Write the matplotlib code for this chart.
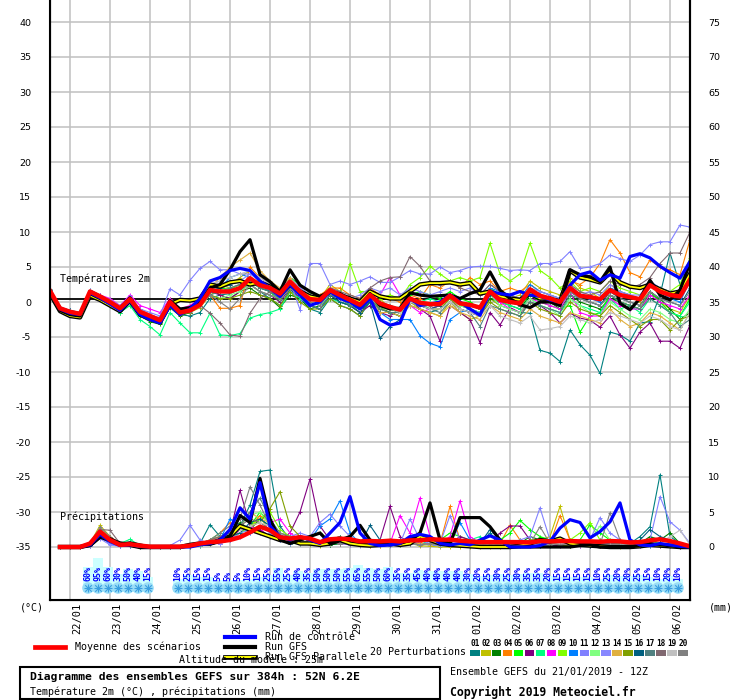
import matplotlib
matplotlib.use('Agg')
import matplotlib.pyplot as plt
from matplotlib.lines import Line2D
from matplotlib.patches import Rectangle
import numpy as np

plt.rcParams['axes.unicode_minus'] = False
MONO = 'DejaVu Sans Mono'

# ---------------- DATA ----------------
date_labels = ['22/01', '23/01', '24/01', '25/01', '26/01', '27/01', '28/01', '29/01',
               '30/01', '31/01', '01/02', '02/02', '03/02', '04/02', '05/02', '06/02']
pert_names = ['01', '02', '03', '04', '05', '06', '07', '08', '09', '10',
              '11', '12', '13', '14', '15', '16', '17', '18', '19', '20']
pert_colors = ['#008080', '#c0c000', '#008000', '#ff8000', '#00ff00', '#800080', '#00ff80',
               '#ff00ff', '#80ff00', '#0080ff', '#8080ff', '#80ff80', '#8888ff', '#e0b040',
               '#80a000', '#006080', '#508080', '#806870', '#c0c0c0', '#808080']

# temperatures (°C), every 6h from 0h to 384h
temp_mean = [1.6, -0.9, -1.4, -1.7, 1.5, 0.8, 0.0, -0.9, 0.4, -1.4, -2.0, -2.6, 0.0, -1.5, -1.2,
             -0.4, 1.7, 1.5, 1.5, 2.0, 3.4, 2.4, 2.0, 1.2, 2.9, 1.5, 0.4, 0.3, 1.7, 1.0,
             0.3, -0.4, 1.0, -0.2, -0.7, -1.1, 0.5, -0.1, -0.3, -0.3, 0.9, -0.2, -0.4, -0.8, 1.5,
             0.3, 0.0, -0.2, 1.8, 0.9, 0.5, 0.0, 2.0, 0.9, 0.7, 0.4, 1.7, 1.0, 0.7, 0.4,
             2.4, 1.5, 1.0, 0.8, 3.2]
temp_ctl = [1.5, -1.0, -1.6, -1.8, 1.3, 0.6, -0.3, -1.2, 0.2, -1.8, -2.5, -3.0, -0.5, -1.8, -1.0,
            0.5, 3.0, 3.5, 4.5, 4.8, 4.5, 3.0, 2.0, 0.8, 2.5, 1.0, -0.5, 0.0, 1.5, 0.5,
            0.0, -1.0, 0.5, -2.5, -3.3, -3.0, 0.5, -0.5, -0.3, 0.0, 1.0, 0.0, -1.0, -1.9, 1.5,
            1.2, 1.0, 1.5, 1.0, 0.8, 0.3, 0.0, 2.4, 3.9, 4.3, 3.1, 3.9, 3.4, 6.5, 6.9,
            6.3, 5.1, 4.2, 3.4, 5.8]
temp_gfs = [1.4, -1.2, -1.8, -2.0, 1.2, 0.5, -0.2, -1.0, 0.6, -1.5, -2.2, -2.8, 0.2, -1.0, -0.8,
            0.0, 2.0, 2.5, 4.6, 7.2, 8.9, 3.9, 2.9, 1.5, 4.6, 2.4, 1.5, 0.8, 1.5, 1.2,
            0.2, -0.6, 1.2, -0.5, -1.0, -0.9, 1.3, 1.0, 0.8, 0.9, 1.0, 0.5, 1.2, 1.7, 4.3,
            1.7, 0.5, -0.4, -0.8, 0.0, 0.0, -0.5, 4.6, 3.9, 3.6, 2.9, 5.0, -0.2, -1.1, 0.5,
            3.1, 1.0, 0.3, 1.7, 5.6]
temp_par = [1.2, -1.3, -2.0, -2.2, 0.9, 0.3, -0.5, -1.3, 0.2, -1.8, -2.4, -2.9, -0.3, 0.3, 0.2,
            0.5, 2.5, 2.2, 2.8, 3.0, 2.5, 2.8, 2.2, 1.0, 2.5, 1.5, 0.8, 0.5, 1.5, 1.0,
            0.5, 0.0, 1.5, 0.8, 0.5, 0.5, 1.5, 2.5, 2.7, 2.7, 2.8, 2.5, 2.7, 1.2, 1.5,
            0.8, 0.5, 0.3, 1.2, 0.5, 0.5, 0.0, 4.5, 3.5, 3.2, 2.8, 4.2, 2.8, 2.2, 2.0,
            2.5, 1.8, 1.2, 1.5, 4.0]

temp_p01 = [1.8, -0.7, -1.3, -1.5, 1.7, 1.0, 0.2, -0.8, 0.6, -1.2, -1.8, -2.4, 0.3, -1.8, -2.0,
            -1.5, 0.5, 1.0, 1.2, 1.8, 2.5, 1.5, 0.5, -0.5, 1.8, 0.5, -1.0, -1.5, 0.5, -0.5,
            -1.0, -2.0, 0.0, -1.0, -1.5, -2.0, -0.5, -1.0, -1.5, -1.0, 0.0, -1.0, -1.5, -2.0, 0.5,
            -0.5, -1.0, -1.5, -1.6, -6.9, -7.3, -8.5, -4.0, -6.1, -7.6, -10.2, -4.3, -4.7, -5.6, -3.0,
            -2.8, 1.0, 7.0, 2.5, 4.2]
temp_p02 = [1.5, -1.1, -1.5, -1.6, 1.4, 0.9, 0.1, -1.0, 0.3, -1.5, -2.2, -2.8, -0.2, -1.2, -1.5,
            -0.8, 1.0, 1.8, 2.5, 3.5, 4.5, 3.0, 2.5, 1.0, 3.5, 2.0, 1.0, 0.5, 2.5, 1.5,
            0.5, -0.5, 1.5, 0.5, -1.0, -1.5, 0.0, -1.0, -1.5, -2.0, 0.0, -1.5, -2.5, -2.0, 0.5,
            -0.5, 0.5, 1.0, 3.0, 2.0, 1.5, 1.0, 3.5, 2.0, 1.5, 0.5, 2.5, 1.5, 1.0, 0.0,
            1.5, 0.0, -1.0, -1.5, 1.0]
temp_p03 = [1.7, -0.8, -1.2, -1.9, 1.2, 0.5, -0.3, -1.5, 0.0, -2.0, -2.8, -3.2, -0.8, -2.0, -1.5,
            0.5, 2.0, 1.0, 0.5, 1.5, 2.0, 1.0, 0.5, -0.8, 1.0, 0.5, -1.0, -0.5, 1.0, 0.0,
            -0.5, -1.5, 0.5, -0.8, -1.5, -2.0, 0.0, -0.5, -1.0, -0.5, 0.5, -0.5, -1.0, -1.5, 0.5,
            0.0, -0.5, -1.0, 1.0, 0.5, 0.0, -1.0, 1.0, 0.0, -0.5, -1.0, 0.5, 0.0, -0.5, -1.0,
            1.0, 0.5, -1.0, -2.5, -1.5]
temp_p04 = [1.6, -0.8, -1.3, -1.6, 1.6, 1.0, 0.3, -0.7, 0.8, -1.0, -1.8, -2.3, 0.5, -1.0, -1.0,
            -0.5, 1.0, -0.9, -0.9, -0.5, 5.0, 3.5, 2.5, 1.5, 3.0, 1.5, 0.5, 1.0, 2.0, 2.0,
            1.0, 0.5, 2.0, 1.0, 0.5, 0.0, 1.0, 0.5, 2.5, 2.0, 3.0, 2.0, 3.5, 2.5, 3.0,
            1.5, 2.0, 1.5, 2.5, 1.5, 1.0, 0.5, 3.0, 2.5, 3.5, 5.5, 8.9, 7.0, 4.2, 3.6,
            6.0, 5.0, 4.6, 3.9, 8.9]
temp_p05 = [1.4, -1.0, -1.5, -1.8, 1.3, 0.7, -0.2, -1.2, 0.0, -1.8, -2.5, -3.0, -0.5, -1.5, -1.0,
            0.0, 1.5, 2.0, 1.8, 2.5, 3.0, 2.0, 1.5, 0.0, 3.5, 2.5, 1.5, 0.5, 1.5, 1.0,
            -0.5, -1.5, 0.0, -0.5, -1.0, -1.5, 1.0, 1.5, 1.0, 0.5, 1.5, 0.5, 0.0, -1.0, 2.0,
            1.0, 0.5, -0.5, 1.0, 0.0, -0.5, -1.0, -0.5, -4.3, -2.0, -1.5, 1.0, 0.0, -0.5, -1.0,
            1.5, 0.0, -1.5, -2.0, 0.5]
temp_p06 = [1.6, -0.9, -1.6, -1.9, 1.4, 0.6, -0.2, -1.1, 0.2, -1.6, -2.4, -2.9, -0.3, -1.6, -1.5,
            -0.5, 1.5, 1.0, 0.5, 1.5, 2.5, 1.5, 1.0, 0.0, 2.0, 0.5, -0.5, -1.0, 1.0, 0.0,
            -0.5, -1.5, -0.5, -1.5, -2.0, -1.0, 0.5, -1.0, -2.0, -5.6, -0.5, -1.5, -2.5, -5.8, -1.5,
            -3.3, -0.8, -1.5, 0.0, -0.5, -1.5, -3.0, -1.6, -2.3, -2.6, -3.6, -2.0, -4.7, -6.6, -4.3,
            -3.0, -5.6, -5.6, -6.6, -3.3]
temp_p07 = [1.5, -1.0, -1.5, -1.8, 1.5, 0.5, -0.5, -1.5, -0.5, -2.5, -3.5, -4.7, -1.5, -3.0, -4.4,
            -4.4, -1.6, -4.7, -4.8, -4.5, -2.3, -1.8, -1.5, -1.0, 1.5, 0.5, -0.5, -1.0, 0.5, 0.0,
            -0.5, -1.0, 0.5, 0.0, -0.5, -1.0, 0.5, 0.0, 0.5, 0.0, 0.5, 0.0, -0.5, -1.0, 1.0,
            0.0, -0.5, -1.0, 0.5, -0.5, -1.0, -1.5, 0.5, -0.5, -1.0, -1.5, 0.5, -1.0, -0.5, -1.5,
            0.5, -0.5, -1.5, -2.0, 0.0]
temp_p08 = [1.5, -0.9, -1.4, -1.7, 1.6, 1.0, 0.5, -0.5, 1.0, -0.5, -1.0, -1.5, 0.5, -1.0, -0.5,
            0.5, 2.0, 2.5, 2.0, 2.5, 3.5, 2.5, 2.0, 1.5, 3.0, 1.5, 0.5, 0.5, 2.0, 1.0,
            0.5, -0.5, 1.5, 1.0, 3.5, 1.0, -0.5, -1.5, -1.0, -0.5, 0.5, -1.0, -1.5, -2.0, 1.0,
            0.0, -1.0, -1.5, 0.5, 0.0, -0.5, -1.0, 1.5, -1.5, -2.0, -2.0, 0.5, -0.5, -1.0, -1.0,
            1.0, 0.0, -0.5, -1.0, 1.0]
temp_p09 = [1.6, -0.8, -1.3, -1.6, 1.4, 0.8, 0.0, -0.8, 0.5, -1.3, -2.0, -2.5, 0.0, -1.3, -1.0,
            0.0, 2.0, 2.5, 2.0, 2.5, 3.0, 2.0, 2.0, 1.5, 2.5, 1.5, 0.5, 0.5, 2.0, 1.0,
            5.5, 1.5, 1.5, 0.5, 1.0, 0.5, 2.5, 3.5, 5.1, 4.0, 3.0, 3.5, 3.0, 3.5, 8.4,
            4.0, 3.0, 4.0, 8.4, 4.5, 3.5, 2.0, 3.0, 1.5, 2.0, 1.5, 3.0, 2.0, 1.5, 1.0,
            2.5, 2.0, 1.5, 2.5, 6.3]
temp_p10 = [1.6, -1.0, -1.5, -1.8, 1.4, 0.8, 0.0, -1.0, 0.3, -1.5, -2.0, -2.8, 0.0, -1.5, -1.2,
            -0.5, 1.5, 2.0, 3.5, 4.0, 3.5, 2.5, 1.5, 1.0, 2.0, 1.0, 0.0, -0.5, 1.0, 0.5,
            0.0, -1.0, 0.5, -1.5, -2.5, -2.5, -2.5, -4.8, -5.9, -6.4, -2.5, -1.5, -1.0, -1.5, 2.0,
            1.5, 1.0, 0.5, 2.5, 1.5, 1.0, 0.5, 2.0, 1.0, 0.5, 0.0, 2.0, 1.5, 1.0, 0.5,
            2.5, 1.5, 0.5, 0.0, 3.0]
temp_p11 = [1.7, -0.7, -1.2, -1.5, 1.7, 1.0, 0.3, -0.5, 0.8, -1.0, -1.5, -2.0, 1.9, 1.0, 3.1,
            4.8, 5.8, 4.6, 4.6, 4.0, 4.0, 3.5, 2.5, 1.5, 3.0, -1.1, 5.5, 5.5, 2.5, 3.0,
            2.5, 3.0, 3.6, 2.8, 2.8, 3.6, 4.5, 4.0, 4.0, 5.0, 4.2, 4.5, 5.0, 5.1, 5.1,
            4.8, 4.5, 4.6, 4.5, 5.5, 5.5, 5.8, 7.2, 4.8, 5.0, 5.5, 6.7, 6.2, 5.8, 6.7,
            8.2, 8.6, 8.6, 11.0, 10.7]
temp_p12 = [1.5, -1.0, -1.4, -1.7, 1.5, 0.7, -0.1, -1.0, 0.3, -1.5, -2.1, -2.7, -0.1, -1.6, -1.3,
            -0.5, 1.0, 0.5, 1.0, 1.5, 2.5, 1.5, 1.0, 0.5, 2.0, 1.0, 0.0, -0.5, 1.0, 0.5,
            0.0, -0.5, 0.5, -1.0, -1.0, -1.0, 0.5, 0.0, -1.0, -1.0, 0.5, -0.5, -1.0, -1.5, 1.0,
            -0.5, -1.0, -1.5, 0.5, -0.5, -1.0, -2.0, 0.5, -0.5, -1.5, -2.0, 0.0, -1.0, -2.0, -2.5,
            -1.0, -1.5, -2.5, -3.0, -1.0]
temp_p13 = [1.6, -0.9, -1.3, -1.6, 1.5, 0.9, 0.2, -0.7, 0.6, -1.2, -1.8, -2.3, 0.3, -1.2, -0.8,
            0.5, 2.5, 3.0, 2.5, 3.0, 4.0, 3.0, 2.5, 1.5, 3.5, 2.0, 1.0, 0.5, 2.0, 1.5,
            0.5, 1.0, 2.0, 1.5, 2.0, 1.0, 2.0, 1.5, 1.0, 1.5, 2.0, 1.5, 2.0, 1.0, 2.5,
            1.5, 1.0, 0.5, 2.0, 1.5, 1.0, 0.5, 2.5, 1.0, 1.5, 1.0, 2.5, 1.5, 1.0, 1.0,
            3.0, 2.0, 1.5, 1.0, 3.5]
temp_p14 = [1.6, -0.9, -1.5, -1.8, 1.4, 0.7, -0.1, -1.0, 0.3, -1.5, -2.2, -2.8, -0.2, -1.5, -1.0,
            0.0, 2.0, 3.5, 5.0, 6.0, 7.0, 4.5, 3.0, 2.0, 3.5, 1.5, 0.5, 0.5, 1.5, 0.5,
            0.0, -1.0, 0.5, -1.5, -1.5, -2.0, -0.5, -1.0, -1.5, -2.0, -0.5, -1.5, -2.0, -2.5, -0.5,
            -1.5, -2.0, -2.5, -1.0, -2.0, -2.5, -3.0, -1.5, -2.0, -2.5, -3.0, -1.0, -2.5, -3.5, -3.0,
            -1.5, -2.0, -3.0, -4.0, -1.5]
temp_p15 = [1.5, -0.9, -1.5, -1.8, 1.3, 0.6, -0.3, -1.3, 0.0, -1.8, -2.5, -3.0, -0.5, -1.8, -1.5,
            -0.5, 1.0, 0.5, 0.5, 1.0, 1.5, 1.0, 0.5, -0.5, 1.5, 0.0, -1.0, -1.0, 0.5, -0.5,
            -1.0, -2.0, 0.5, -1.0, -1.5, -1.5, 0.0, -0.5, -1.0, -1.0, 0.5, -1.0, -1.5, -2.0, 0.0,
            -1.0, -1.5, -2.0, 0.0, -1.0, -1.5, -2.0, 0.0, -1.0, -1.5, -2.0, -0.5, -1.5, -2.5, -3.5,
            -2.5, -2.5, -4.0, -2.5, -2.0]
temp_p16 = [1.7, -0.8, -1.2, -1.5, 1.6, 0.9, 0.1, -0.8, 0.5, -1.3, -1.9, -2.4, 0.2, -1.3, -1.0,
            0.0, 2.0, 2.0, 2.5, 3.0, 3.0, 2.0, 1.5, 0.5, 2.5, 1.0, -0.5, -1.0, 1.0, 0.0,
            -0.5, -1.5, 0.0, -5.2, -3.5, -2.5, 0.0, -0.5, -1.0, -0.5, 1.0, 0.0, -0.5, -1.0, 1.0,
            0.5, 0.0, -0.5, 1.5, 0.5, 0.0, -0.5, 1.5, 0.5, 0.0, -0.5, 1.5, 0.5, 0.0, -0.5,
            1.5, 0.5, 0.0, -0.5, 2.0]
temp_p17 = [1.5, -1.0, -1.6, -1.9, 1.3, 0.6, -0.2, -1.1, 0.2, -1.6, -2.3, -2.9, -0.2, -1.7, -1.4,
            -0.5, 1.0, 1.5, 2.0, 2.5, 3.0, 2.0, 1.5, 0.5, 2.5, 1.0, -0.5, -1.0, 1.0, 0.5,
            -0.5, -1.0, 0.5, -1.0, -1.5, -1.5, 0.0, -0.5, -1.0, -1.5, 0.0, -1.0, -1.5, -3.5, -0.5,
            -1.0, -1.5, -2.0, 0.0, -0.5, -1.0, -1.5, 1.0, 0.5, 0.0, -0.5, 1.0, 0.0, -0.5, -1.0,
            0.5, -0.5, -1.5, -3.5, -2.5]
temp_p18 = [1.5, -0.9, -1.4, -1.7, 1.5, 0.8, 0.0, -0.9, 0.4, -1.4, -2.0, -2.6, 0.0, -1.5, -1.2,
            -0.5, -1.6, -3.0, -4.7, -4.9, -1.6, 0.5, 1.5, 1.0, 2.5, 1.5, 0.5, 0.5, 2.0, 1.5,
            1.0, 0.5, 2.0, 3.0, 3.5, 3.6, 6.5, 5.1, 3.0, 2.5, 3.0, 2.0, 1.5, 1.0, 2.5,
            1.5, 1.0, 0.5, 2.0, 1.0, 0.5, 0.0, 2.5, 1.5, 1.0, 1.5, 3.0, 2.5, 2.0, 2.5,
            3.5, 5.5, 7.0, 7.0, 10.0]
temp_p19 = [1.6, -0.8, -1.3, -1.6, 1.6, 0.9, 0.1, -0.8, 0.5, -1.3, -1.9, -2.5, 0.1, -1.4, -1.1,
            0.0, 2.5, 3.0, 3.5, 4.0, 4.5, 3.5, 2.5, 1.5, 3.0, 1.5, 0.5, 0.0, 1.5, 0.5,
            0.0, -1.0, 0.5, -0.5, -1.0, -1.5, 0.0, -0.5, -1.0, -1.0, 0.0, -1.0, -1.5, -2.0, -0.5,
            -2.0, -2.5, -3.0, -2.0, -4.0, -3.8, -3.5, -2.0, -2.5, -3.0, -2.5, -1.5, -2.0, -2.5, -3.0,
            -2.0, -2.5, -3.5, -4.0, -1.5]
temp_p20 = [1.6, -0.9, -1.4, -1.8, 1.4, 0.7, -0.1, -1.0, 0.3, -1.5, -2.1, -2.7, -0.1, -1.6, -1.3,
            -0.5, 1.0, 0.0, -1.0, 0.5, 2.5, 1.5, 1.0, 0.5, 2.0, 1.0, 0.0, -0.5, 1.5, 0.5,
            0.0, -0.5, 1.0, 0.0, -0.5, -1.0, 0.5, 0.0, -0.5, 0.0, 1.0, 0.0, -0.5, -1.0, 1.5,
            0.5, 0.0, -0.5, 1.5, 0.5, 0.0, -0.5, 1.5, 0.5, 0.0, -0.5, 1.0, 0.5, 0.0, -0.5,
            1.5, 0.5, 0.0, -0.5, 1.5]

# precipitation (mm per 6h), from 6h to 384h
precip_mean = [0, 0, 0, 0.5, 2.2, 1.0, 0.3, 0.4, 0.2, 0.05, 0.05, 0.05, 0.05, 0.2, 0.5, 0.7,
               0.8, 1.0, 1.4, 2.1, 2.9, 2.4, 1.4, 1.2, 1.4, 1.2, 0.7, 1.1, 1.2, 1.1, 0.8, 0.85,
               0.8, 0.9, 0.8, 0.95, 0.95, 1.1, 1.05, 1.05, 0.9, 0.8, 0.7, 0.7, 0.7, 0.7, 0.7, 0.65,
               0.85, 0.8, 0.85, 0.85, 0.8, 0.8, 0.75, 0.85, 0.8, 0.65, 0.7, 0.95, 1.1, 0.85, 0.5, 0.1]
precip_ctl = [0, 0, 0, 0.3, 1.8, 0.8, 0.2, 0.3, 0.1, 0, 0, 0, 0, 0, 0.3, 0.5,
              1.0, 2.5, 5.6, 4.0, 9.2, 3.0, 1.5, 1.0, 1.5, 1.0, 0.5, 2.0, 3.5, 7.2, 2.0, 0.5,
              0.2, 0.3, 0.5, 1.5, 1.8, 1.5, 0.5, 0.3, 0.5, 0.3, 1.0, 1.6, 1.0, 0, 0, 0,
              0.2, 0.8, 2.7, 3.9, 3.5, 1.3, 2.2, 3.6, 6.3, 1.0, 0.3, 0.2, 0.5, 0.3, 0.1, 0]
precip_gfs = [0, 0, 0, 0.2, 1.5, 1.2, 0.4, 0.6, 0.3, 0, 0, 0, 0, 0.2, 0.5, 0.4,
              0.8, 1.5, 4.5, 3.5, 9.8, 4.0, 1.0, 0.5, 1.0, 1.5, 2.0, 0.5, 1.0, 1.5, 3.1, 1.0,
              0.5, 0.3, 0.5, 1.0, 2.0, 6.3, 1.0, 0.5, 4.2, 4.2, 4.2, 2.9, 1.0, 0, 0, 0,
              0, 0, 0, 0, 0.2, 0.3, 0, 0, 0, 0, 0.2, 0.5, 0.3, 0.2, 0, 0]
precip_par = [0, 0, 0, 0.3, 1.5, 1.0, 0.5, 0.3, 0, 0, 0, 0, 0, 0.3, 0.5, 0.5,
              1.0, 1.5, 3.0, 2.5, 2.0, 1.5, 1.0, 1.0, 0.5, 0.5, 0.3, 0.5, 1.0, 0.5, 0.3, 0.2,
              0.3, 0.5, 0.3, 0.5, 1.5, 1.0, 0.5, 0.3, 0.2, 0.1, 0, 0, 0, 0, 0.2, 0.5,
              1.0, 0.8, 1.2, 0.5, 0.3, 0.2, 0.1, 0, 0, 0, 0.1, 0.3, 0.2, 0.1, 0, 0]

precip_p01 = [0, 0, 0, 0.3, 2.0, 1.0, 0.3, 0.2, 0, 0, 0, 0, 0, 0, 0.5, 3.2,
              1.5, 2.0, 3.0, 6.0, 10.8, 11.0, 3.0, 1.0, 0.5, 1.0, 0.5, 0.3, 0.5, 1.0, 0.5, 0.5,
              1.0, 0.5, 0.3, 0.5, 0.5, 0.3, 0.2, 0.1, 0.3, 0.5, 0.5, 2.0, 0.5, 0.3, 0.5, 0.3,
              0.2, 0.1, 0.3, 0.2, 0.1, 0.3, 0.2, 0.5, 0.3, 0.5, 1.5, 2.9, 10.3, 1.5, 0.5, 0]
precip_p02 = [0, 0, 0, 0.5, 3.1, 1.5, 0.3, 0.5, 0.2, 0, 0, 0, 0, 0, 0.3, 0.5,
              0.5, 1.0, 2.0, 3.0, 4.5, 2.0, 1.0, 0.5, 0.5, 0.3, 0.2, 0.5, 1.0, 0.5, 0.3, 0.2,
              0.1, 0.3, 0.5, 0.5, 0.2, 0.1, 0, 0, 0, 0, 0, 0, 0, 0, 0.5, 1.0,
              1.0, 1.5, 5.8, 1.0, 0.5, 0.3, 0.2, 0.1, 0, 0.2, 0.5, 0.3, 0.2, 0.1, 0, 0]
precip_p03 = [0, 0, 0, 0.2, 1.5, 0.5, 0.2, 0.2, 0, 0, 0, 0, 0, 0.2, 0.5, 1.0,
              1.5, 2.0, 3.5, 2.5, 4.0, 3.0, 1.5, 0.5, 1.0, 0.5, 0.5, 0.3, 0.5, 1.0, 0.5, 0.5,
              0.5, 0.3, 0.5, 1.0, 0.5, 0.5, 0.3, 0.3, 0.5, 0.3, 0.3, 0.2, 0.2, 0.5, 0.5, 1.5,
              1.0, 0.5, 0.3, 0.2, 0.5, 0.5, 0.3, 0.5, 0.3, 0.2, 0.5, 1.5, 1.0, 2.0, 0.5, 0]
precip_p04 = [0, 0, 0, 0.5, 2.5, 1.5, 0.5, 0.3, 0, 0, 0, 0, 0, 0.3, 0.5, 1.0,
              2.0, 3.5, 3.0, 2.5, 4.5, 3.5, 2.0, 1.5, 1.0, 0.5, 0.5, 1.0, 1.5, 0.5, 0.3, 0.2,
              0.2, 0.3, 0.5, 1.0, 0.5, 1.5, 0.5, 5.8, 1.0, 0.5, 0.3, 0.3, 0.5, 3.1, 1.0, 0.5,
              0.3, 0.5, 4.5, 1.0, 0.5, 0.3, 0.2, 0.5, 0.3, 0.5, 0.3, 0.2, 0.5, 0.3, 0.1, 0]
precip_p05 = [0, 0, 0, 0.3, 2.0, 1.0, 0.5, 0.3, 0, 0, 0, 0, 0, 0, 0.3, 0.5,
              1.0, 1.5, 2.0, 3.0, 5.0, 3.5, 2.0, 1.5, 1.0, 1.5, 2.0, 1.0, 0.5, 0.5, 0.5, 0.5,
              0.3, 1.0, 0.5, 0.5, 0.3, 0.5, 1.0, 2.0, 1.5, 1.0, 0.5, 0.3, 1.0, 2.0, 3.8, 2.5,
              1.5, 1.0, 0.5, 0.5, 1.0, 3.2, 2.0, 1.0, 0.5, 0.5, 0.3, 1.0, 0.5, 0.3, 0.2, 0]
precip_p06 = [0, 0, 0, 0.5, 2.0, 0.8, 0.3, 0.5, 0, 0, 0, 0, 0, 0, 0.2, 0.5,
              1.0, 2.0, 8.1, 3.0, 2.5, 1.5, 1.0, 2.0, 5.0, 9.7, 3.0, 1.0, 0.5, 0.5, 0.3, 0.5,
              1.0, 5.8, 1.5, 0.5, 0.3, 0.5, 0.3, 0.5, 1.5, 1.0, 0.5, 0.3, 2.0, 3.0, 3.0, 1.0,
              0.5, 0.3, 0.2, 0.5, 0.3, 0.2, 0.5, 0.3, 0.2, 0.3, 0.5, 0.3, 0.2, 0.1, 0, 0]
precip_p07 = [0, 0, 0, 0.3, 2.5, 1.0, 0.5, 1.1, 0.2, 0, 0, 0, 0, 0.2, 0.5, 1.0,
              2.0, 1.5, 2.0, 2.5, 3.0, 2.5, 1.0, 0.5, 0.5, 1.0, 0.5, 0.5, 1.0, 0.5, 0.3, 0.5,
              1.0, 0.5, 0.3, 0.5, 0.3, 1.0, 0.5, 0.3, 0.5, 1.0, 1.5, 0.5, 0.3, 0.5, 1.0, 0.5,
              0.3, 0.5, 0.3, 0.5, 1.0, 0.5, 0.3, 0.5, 0.5, 0.3, 0.2, 0.5, 0.3, 0.2, 0.1, 0]
precip_p08 = [0, 0, 0, 0.2, 1.5, 0.5, 0.2, 0.3, 0, 0, 0, 0, 0, 0.2, 0.3, 0.5,
              0.5, 1.0, 2.5, 3.0, 2.0, 3.5, 4.0, 2.0, 1.0, 0.5, 0.5, 1.0, 0.5, 0.3, 0.5, 0.5,
              0.5, 0.5, 4.5, 2.0, 7.0, 1.5, 0.5, 1.5, 6.6, 1.5, 0.5, 0.3, 0.2, 0.5, 0.3, 0.2,
              0.2, 0.3, 0.5, 0.3, 0.2, 0.3, 0.2, 0.1, 0.2, 0.3, 0.2, 0.5, 0.3, 0.2, 0.1, 0]
precip_p09 = [0, 0, 0, 0.3, 2.0, 0.8, 0.3, 0.3, 0, 0, 0, 0, 0, 0, 0.3, 0.5,
              1.0, 1.5, 2.0, 3.0, 4.0, 5.0, 2.5, 1.5, 1.0, 0.5, 0.5, 1.0, 1.5, 0.5, 0.5, 0.3,
              0.5, 0.3, 0.5, 0.5, 0.3, 0.5, 0.3, 0.5, 0.3, 0.5, 0.3, 0.5, 0.5, 0.3, 0.2, 0.5,
              0.3, 0.5, 0.5, 1.0, 2.0, 3.5, 1.0, 0.5, 0.3, 0.5, 0.3, 1.0, 0.5, 0.3, 0.2, 0]
precip_p10 = [0, 0, 0, 0.3, 1.5, 0.5, 0.2, 0.2, 0, 0, 0, 0, 0, 0, 0.2, 0.5,
              1.0, 4.0, 3.0, 2.0, 3.0, 2.5, 1.5, 1.0, 0.5, 1.0, 3.0, 4.0, 6.6, 2.0, 0.5, 0.5,
              0.3, 0.5, 1.0, 0.5, 1.0, 1.5, 1.0, 0.5, 3.5, 1.0, 0.5, 0.3, 0.2, 0.3, 0.5, 0.3,
              0.2, 0.3, 0.5, 0.3, 0.5, 0.3, 0.5, 0.3, 0.3, 0.5, 0.3, 0.2, 0.5, 0.3, 0.2, 0]
precip_p11 = [0, 0, 0, 0.2, 1.8, 0.5, 0.2, 0.2, 0, 0, 0, 0.2, 1.0, 3.1, 1.0, 0.5,
              0.5, 1.0, 1.5, 2.0, 3.0, 2.0, 1.0, 1.5, 2.0, 1.5, 3.5, 4.7, 3.0, 1.5, 0.5, 0.5,
              0.5, 0.3, 0.5, 4.0, 1.0, 0.5, 0.5, 4.5, 1.0, 0.5, 0.3, 0.3, 0.5, 0.5, 1.0, 1.5,
              5.6, 1.0, 0.5, 0.3, 0.5, 1.0, 4.2, 2.0, 1.0, 0.5, 0.3, 1.0, 7.2, 3.6, 2.4, 0.5]
precip_p12 = [0, 0, 0, 0.3, 2.0, 1.0, 0.3, 0.5, 0, 0, 0, 0, 0, 0, 0.2, 0.5,
              1.0, 2.0, 3.0, 4.5, 5.0, 3.0, 1.5, 1.0, 0.5, 1.0, 0.5, 0.5, 1.5, 0.5, 0.5, 0.3,
              0.5, 0.5, 0.3, 0.5, 0.5, 0.3, 0.5, 0.5, 0.3, 0.5, 0.5, 0.3, 0.5, 0.5, 0.3, 0.5,
              0.5, 1.0, 0.5, 0.5, 0.5, 1.0, 3.0, 1.0, 0.5, 0.3, 0.5, 0.3, 0.5, 0.3, 0.2, 0]
precip_p13 = [0, 0, 0, 0.2, 1.2, 0.3, 0.1, 0.1, 0, 0, 0, 0, 0, 0.2, 0.5, 0.5,
              0.5, 1.0, 2.0, 2.5, 2.0, 1.5, 1.0, 0.5, 1.0, 0.5, 0.5, 1.0, 0.5, 0.3, 0.2, 0.3,
              0.3, 0.2, 0.5, 1.0, 0.5, 0.3, 0.2, 0.3, 0.5, 0.3, 0.2, 0.3, 0.5, 0.3, 0.2, 0.3,
              0.5, 1.0, 0.5, 0.3, 0.5, 0.3, 0.5, 0.5, 0.3, 0.5, 0.3, 0.5, 0.3, 0.5, 0.3, 0]
precip_p14 = [0, 0, 0, 0.3, 2.2, 1.0, 0.5, 0.5, 0.2, 0, 0, 0, 0, 0.2, 0.5, 1.0,
              1.5, 2.0, 3.0, 5.0, 4.0, 3.5, 2.0, 1.0, 1.0, 0.5, 0.5, 1.0, 0.5, 0.5, 0.3, 0.5,
              0.3, 0.5, 0.3, 0.5, 0.5, 0.3, 0.5, 0.3, 0.5, 0.3, 0.5, 0.3, 0.5, 0.5, 0.3, 0.2,
              0.3, 0.5, 0.3, 0.5, 0.3, 0.5, 0.3, 0.2, 0.3, 0.2, 0.3, 0.5, 0.3, 0.2, 0.1, 0]
precip_p15 = [0, 0, 0, 0.5, 2.0, 0.8, 0.3, 0.3, 0, 0, 0, 0, 0, 0, 0.3, 0.5,
              1.0, 1.5, 2.5, 3.0, 3.5, 5.5, 7.9, 3.0, 1.5, 1.0, 0.5, 0.5, 1.0, 0.5, 0.3, 0.5,
              0.3, 0.5, 0.3, 0.5, 0.3, 0.5, 0.3, 0.5, 0.3, 0.2, 0.3, 0.5, 0.5, 0.3, 0.5, 1.0,
              1.0, 0.5, 0.3, 0.2, 0.5, 0.3, 0.5, 0.3, 0.2, 0.5, 0.5, 0.5, 0.3, 0.3, 0.2, 0]
precip_p16 = [0, 0, 0, 0.3, 1.8, 0.8, 0.3, 0.3, 0, 0, 0, 0, 0, 0.2, 0.3, 0.5,
              1.0, 1.5, 2.0, 3.5, 4.0, 3.0, 2.0, 1.0, 0.5, 0.5, 0.3, 1.0, 1.5, 0.5, 0.3, 3.1,
              1.0, 0.5, 0.3, 0.5, 0.3, 0.5, 0.3, 0.5, 0.5, 0.3, 0.5, 2.5, 1.0, 0.5, 0.3, 0.5,
              0.3, 0.5, 0.3, 0.5, 0.3, 0.2, 0.3, 0.5, 0.3, 0.5, 1.0, 2.5, 1.5, 1.0, 0.5, 0]
precip_p17 = [0, 0, 0, 0.3, 2.0, 1.0, 0.5, 0.5, 0.2, 0, 0, 0, 0, 0, 0.3, 0.5,
              1.0, 1.5, 3.0, 5.0, 7.0, 4.0, 2.0, 1.0, 0.5, 1.0, 0.5, 0.5, 1.0, 0.5, 0.3, 0.3,
              0.5, 0.3, 0.5, 0.5, 0.3, 0.5, 0.3, 0.5, 0.3, 0.5, 0.5, 0.3, 0.5, 0.3, 0.5, 0.3,
              0.5, 0.3, 0.5, 0.3, 0.5, 0.3, 0.5, 0.3, 0.5, 0.3, 0.5, 0.3, 0.5, 0.3, 0.2, 0]
precip_p18 = [0, 0, 0, 0.5, 2.5, 2.4, 0.5, 0.5, 0.2, 0, 0, 0, 0, 0, 0.5, 1.0,
              1.5, 2.0, 3.0, 4.0, 3.5, 2.5, 1.5, 1.0, 1.0, 0.5, 0.5, 1.0, 0.5, 0.5, 0.3, 0.5,
              0.5, 0.3, 1.0, 0.5, 0.3, 0.5, 0.3, 0.5, 0.3, 0.5, 0.3, 0.5, 0.3, 0.5, 0.3, 0.5,
              0.3, 0.5, 0.3, 0.5, 0.3, 0.5, 1.0, 0.5, 0.3, 0.5, 0.3, 0.5, 0.3, 0.5, 0.3, 0]
precip_p19 = [0, 0, 0, 0.3, 1.8, 0.8, 0.3, 0.3, 0, 0, 0, 0, 0, 0, 0.3, 0.5,
              1.0, 1.5, 2.5, 3.0, 3.5, 3.0, 2.0, 1.0, 0.5, 0.5, 0.5, 0.5, 1.0, 0.5, 0.3, 0.3,
              0.3, 0.5, 0.3, 0.5, 0.3, 0.5, 0.3, 0.3, 0.3, 0.5, 0.3, 0.3, 0.3, 0.5, 0.3, 0.3,
              0.3, 0.3, 0.5, 0.3, 0.3, 0.5, 0.3, 0.3, 0.3, 0.5, 0.3, 0.5, 0.5, 1.5, 2.4, 0.3]
precip_p20 = [0, 0, 0, 0.5, 2.8, 1.5, 0.5, 0.5, 0.2, 0, 0, 0, 0, 0, 0.5, 1.0,
              2.0, 3.0, 4.0, 8.6, 6.0, 3.0, 2.0, 1.5, 1.0, 0.5, 0.5, 1.0, 0.5, 0.5, 0.3, 0.5,
              0.3, 0.5, 0.3, 0.5, 0.3, 0.5, 0.3, 0.5, 0.3, 0.5, 0.3, 0.5, 0.3, 0.5, 0.3, 0.5,
              2.9, 0.5, 0.3, 0.5, 0.3, 0.5, 0.3, 4.9, 1.0, 0.5, 0.3, 0.5, 0.3, 0.5, 0.3, 0]

# probability of precipitation (%) for each 6h step (6h..384h), 0 = no label
precip_prob = [0, 0, 0, 60, 95, 60, 30, 50, 40, 15, 0, 0, 10, 25, 15, 15,
               5, 5, 5, 10, 15, 25, 55, 25, 40, 35, 50, 50, 50, 55, 65, 55,
               50, 60, 35, 35, 45, 40, 40, 40, 40, 30, 20, 25, 30, 25, 30, 35,
               35, 20, 15, 15, 15, 15, 10, 25, 20, 20, 25, 15, 10, 20, 10, 0]

temp_perts = [temp_p01, temp_p02, temp_p03, temp_p04, temp_p05, temp_p06, temp_p07, temp_p08,
              temp_p09, temp_p10, temp_p11, temp_p12, temp_p13, temp_p14, temp_p15, temp_p16,
              temp_p17, temp_p18, temp_p19, temp_p20]
precip_perts = [precip_p01, precip_p02, precip_p03, precip_p04, precip_p05, precip_p06,
                precip_p07, precip_p08, precip_p09, precip_p10, precip_p11, precip_p12,
                precip_p13, precip_p14, precip_p15, precip_p16, precip_p17, precip_p18,
                precip_p19, precip_p20]

# ---------------- FIGURE ----------------
W, H = 740, 700
fig = plt.figure(figsize=(W / 100, H / 100), dpi=100)
fig.patch.set_facecolor('white')


def fx(x):
    return x / W


def fy(y):
    return 1 - y / H


PX_PER_UNIT = 7.0
Y_ZERO_PX = 302.0
ax = fig.add_axes([fx(50), fy(600), 640 / W, 600 / H])
ymin = (Y_ZERO_PX - 600) / PX_PER_UNIT
ymax = (Y_ZERO_PX - 0) / PX_PER_UNIT
ax.set_xlim(0, 384)
ax.set_ylim(ymin, ymax)

hours_t = np.arange(0, 385, 6)
hours_p = np.arange(6, 385, 6)
PRECIP_OFFSET = -35  # precipitation axis 0 sits on -35

# grid
ax.set_xticks(np.arange(12, 384, 24))
ax.set_yticks(np.arange(-35, 41, 5))
ax.grid(True, color='#c0c0c0', lw=1.1)
ax.set_axisbelow(True)
ax.tick_params(axis='x', length=0, labelbottom=False)
ax.tick_params(axis='y', length=0, pad=13.5, labelsize=6.8)
ax.set_yticklabels([str(v) for v in np.arange(-35, 41, 5)])
for s in ['left', 'bottom', 'right']:
    ax.spines[s].set_color('black')
    ax.spines[s].set_linewidth(1.5)
ax.spines['top'].set_visible(False)

ax2 = ax.twinx()
ax2.set_ylim(ymin, ymax)
ax2.set_yticks(np.arange(-35, 41, 5))
ax2.set_yticklabels([str(v + 35) for v in np.arange(-35, 41, 5)])
ax2.tick_params(axis='y', length=0, pad=13, labelsize=6.8)
ax2.spines['top'].set_visible(False)
ax2.spines['right'].set_linewidth(1.5)

# 0°C line
ax.axhline(0.43, color='black', lw=1.3, zorder=1.5)

# precipitation probability bars / symbols / labels
bar_bottom = (Y_ZERO_PX - 592) / PX_PER_UNIT
for h, p in zip(hours_p, precip_prob):
    if p <= 0:
        continue
    top = (Y_ZERO_PX - (581 - 0.24 * p)) / PX_PER_UNIT
    ax.bar(h - 1.2, top - bar_bottom, bottom=bar_bottom, width=6.0, color='#ccffff',
           edgecolor='none', zorder=1)
sx = [h - 1.2 for h, p in zip(hours_p, precip_prob) if p > 0]
sy = [(Y_ZERO_PX - 588) / PX_PER_UNIT] * len(sx)
ax.scatter(sx, sy, s=70, marker='o', color='#99ddf7', edgecolor='none', zorder=2)
ax.scatter(sx, sy, s=40, marker='+', color='#3a9fe0', linewidths=0.8, zorder=2.1)
ax.scatter(sx, sy, s=22, marker='x', color='#3a9fe0', linewidths=0.8, zorder=2.1)
for h, p in zip(hours_p, precip_prob):
    if p <= 0:
        continue
    ax.text(h - 1.2, (Y_ZERO_PX - 581) / PX_PER_UNIT, f'{p}%', rotation=90, ha='center',
            va='bottom', color='#0000ff', fontsize=6.0, family=MONO, fontweight='bold', zorder=3)

# ensemble members
for vals, c in zip(temp_perts, pert_colors):
    ax.plot(hours_t, vals, color=c, lw=0.8, marker='+', ms=3.5, mew=0.7, zorder=3)
for vals, c in zip(precip_perts, pert_colors):
    ax.plot(hours_p, np.array(vals) + PRECIP_OFFSET, color=c, lw=0.8, marker='+', ms=3.5,
            mew=0.7, zorder=3)

# GFS parallel (yellow with black edge)
ax.plot(hours_t, temp_par, color='black', lw=3.2, zorder=4)
ax.plot(hours_t, temp_par, color='#ffff00', lw=1.3, zorder=4.1)
ax.plot(hours_p, np.array(precip_par) + PRECIP_OFFSET, color='black', lw=3.2, zorder=4)
ax.plot(hours_p, np.array(precip_par) + PRECIP_OFFSET, color='#ffff00', lw=1.3, zorder=4.1)
# GFS run
ax.plot(hours_t, temp_gfs, color='black', lw=2.3, zorder=4.3)
ax.plot(hours_p, np.array(precip_gfs) + PRECIP_OFFSET, color='black', lw=2.3, zorder=4.3)
# control run
ax.plot(hours_t, temp_ctl, color='#0000ff', lw=2.3, zorder=4.5)
ax.plot(hours_p, np.array(precip_ctl) + PRECIP_OFFSET, color='#0000ff', lw=2.3, zorder=4.5)
# mean
ax.plot(hours_t, temp_mean, color='#ff0000', lw=3.2, zorder=5)
ax.plot(hours_p, np.array(precip_mean) + PRECIP_OFFSET, color='#ff0000', lw=3.2, zorder=5)

# in-plot labels
fig.text(fx(60), fy(279), 'Températures 2m', family=MONO, fontsize=7.2, va='center', ha='left')
fig.text(fx(60), fy(517), 'Précipitations', family=MONO, fontsize=7.2, va='center', ha='left')

# date labels
xt = ax.get_xaxis_transform()
for k, lab in enumerate(date_labels):
    ax.text(12 + 24 * k + 4.2, -0.005, lab, rotation=90, transform=xt, ha='center', va='top',
            family=MONO, fontsize=7.5)

fig.text(fx(20), fy(607), '(°C)', family=MONO, fontsize=7.2, va='center', ha='left')
fig.text(fx(709), fy(607), '(mm)', family=MONO, fontsize=7.2, va='center', ha='left')

# legend
fig.add_artist(Line2D([fx(35), fx(65)], [fy(647), fy(647)], color='#ff0000', lw=3.4))
fig.text(fx(75), fy(647), 'Moyenne des scénarios', family=MONO, fontsize=7.2, va='center')
fig.add_artist(Line2D([fx(225), fx(255)], [fy(637), fy(637)], color='#0000ff', lw=3.0))
fig.text(fx(265), fy(637), 'Run de contrôle', family=MONO, fontsize=7.2, va='center')
fig.add_artist(Line2D([fx(225), fx(255)], [fy(647), fy(647)], color='black', lw=3.0))
fig.text(fx(265), fy(647), 'Run GFS', family=MONO, fontsize=7.2, va='center')
fig.add_artist(Line2D([fx(225), fx(255)], [fy(657), fy(657)], color='black', lw=3.4))
fig.add_artist(Line2D([fx(225), fx(255)], [fy(657), fy(657)], color='#ffff00', lw=1.4))
fig.text(fx(265), fy(657), 'Run GFS Parallele', family=MONO, fontsize=7.2, va='center')
fig.text(fx(251), fy(660), 'Altitude du modèle : 25m', family=MONO, fontsize=7.2,
         va='center', ha='center')

fig.text(fx(370), fy(652), '20 Perturbations', family=MONO, fontsize=7.2, va='center')
for k, (name, c) in enumerate(zip(pert_names, pert_colors)):
    x0 = 470 + 10.95 * k
    fig.add_artist(Rectangle((fx(x0), fy(656)), 9.6 / W, 6 / H, color=c, lw=0))
    fig.text(fx(x0 + 4.8), fy(643), name, family=MONO, fontsize=5.6, fontweight='bold',
             ha='center', va='center')

# title box
fig.add_artist(Rectangle((fx(20), fy(699)), 420 / W, 32 / H, fill=False, ec='black', lw=1.5))
fig.text(fx(30), fy(677), 'Diagramme des ensembles GEFS sur 384h : 52N 6.2E', family=MONO,
         fontsize=8.2, fontweight='bold', va='center')
fig.text(fx(30), fy(692), 'Température 2m (°C) , précipitations (mm)', family=MONO,
         fontsize=7.2, va='center')
fig.text(fx(450), fy(672), 'Ensemble GEFS du 21/01/2019 - 12Z', family=MONO, fontsize=7.2,
         va='center')
fig.text(fx(450), fy(692), 'Copyright 2019 Meteociel.fr', family=MONO, fontsize=8.3,
         fontweight='bold', va='center')

fig.savefig('out.png', dpi=100)
